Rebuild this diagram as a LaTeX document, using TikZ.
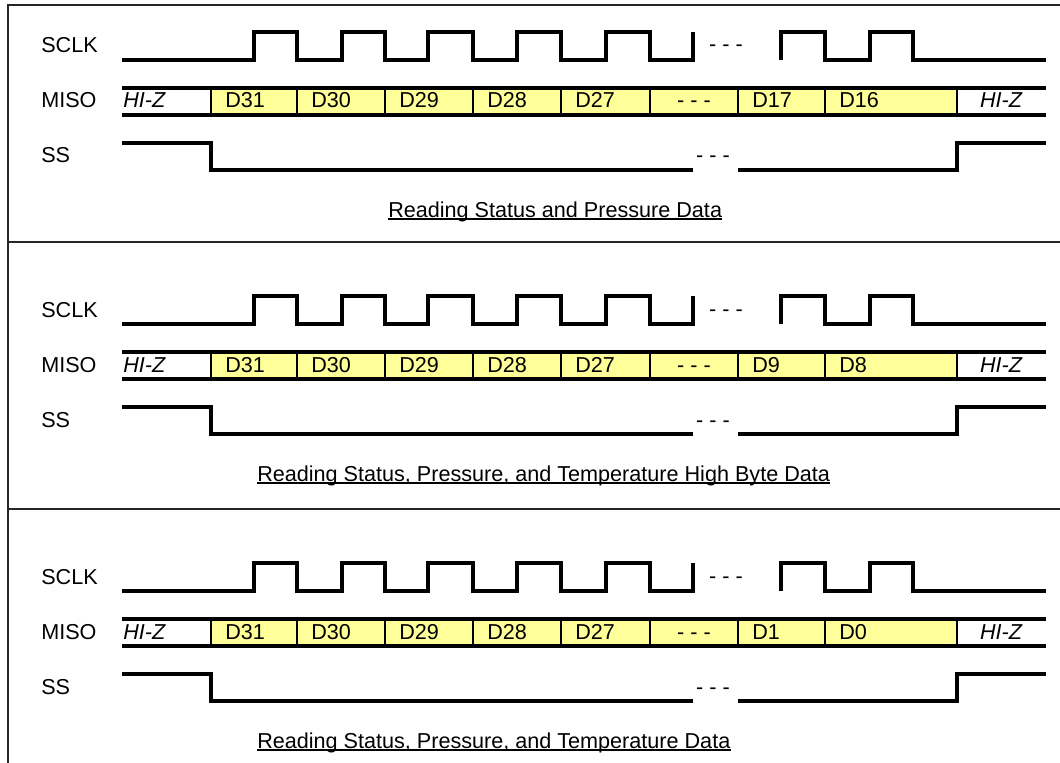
\documentclass[tikz,border=0pt]{standalone}
\usepackage{fontspec}
\setmainfont{Liberation Sans}
\definecolor{bityellow}{RGB}{255,255,153}

\begin{document}
\begin{tikzpicture}[x=0.75pt, y=-0.75pt,
    txt/.style={font=\fontsize{16.2}{19}\selectfont, inner sep=0pt},
    hiz/.style={font=\fontsize{16.2}{19}\selectfont\itshape, inner sep=0pt},
    wave/.style={line width=2.6pt, line join=miter},
    cell/.style={line width=2pt},
    frame/.style={line width=1pt, black!85}]
    \useasboundingbox (0,0) rectangle (1060,763);

    % panel frame
    \draw[frame] (8,763) -- (8,5) -- (1060,5);
    \draw[frame] (8,242) -- (1060,242);
    \draw[frame] (8,509) -- (1060,509);

    \foreach \dy/\bitA/\bitB/\cx/\capt in {0/D17/D16/388/{Reading Status and Pressure Data},
        264/D9/D8/257/{Reading Status, Pressure, and Temperature High Byte Data},
        531/D1/D0/257/{Reading Status, Pressure, and Temperature Data}} {
      % signal names
      \node[txt, anchor=base west] (sclk\dy) at (41,53+\dy) {SCLK};
      \node[txt, anchor=base west] (miso\dy) at (41,108+\dy) {MISO};
      \node[txt, anchor=base west] (ss\dy) at (41,163+\dy) {SS};

      % clock
      \draw[wave] (122,60+\dy) foreach \r/\f in {254/297,342/385,428/473,517/561,606/650} {
          -- (\r,60+\dy) -- (\r,32+\dy) -- (\f,32+\dy) -- (\f,60+\dy)} -- (693,60+\dy) -- (693,32+\dy);
      \node[txt, anchor=base] (clkgap\dy) at (726,52+\dy) {- - -};
      \draw[wave] (781,60+\dy) -- (781,32+\dy) -- (825,32+\dy) -- (825,60+\dy) -- (870,60+\dy)
          -- (870,32+\dy) -- (913,32+\dy) -- (913,60+\dy) -- (1046,60+\dy);

      % data out
      \fill[bityellow] (211,88+\dy) rectangle (957,115+\dy);
      \draw[wave] (122,88+\dy) -- (1046,88+\dy);
      \draw[wave] (122,115+\dy) -- (1046,115+\dy);
      \foreach \x in {211,297,385,473,561,650,738,825,957}
          \draw[cell] (\x,88+\dy) -- (\x,115+\dy);
      \node[hiz, anchor=base west] (hizl\dy) at (123,108+\dy) {HI-Z};
      \foreach \x/\t in {211/D31,297/D30,385/D29,473/D28,561/D27,738/\bitA,825/\bitB}
          \node[txt, anchor=base west] (bit\dy-\x) at (\x+14,108+\dy) {\t};
      \node[txt, anchor=base] (bitgap\dy) at (694,108+\dy) {- - -};
      \node[hiz, anchor=base] (hizr\dy) at (1001,108+\dy) {HI-Z};

      % select
      \draw[wave] (122,143+\dy) -- (211,143+\dy) -- (211,170+\dy) -- (693,170+\dy);
      \node[txt, anchor=base] (ssgap\dy) at (713,163+\dy) {- - -};
      \draw[wave] (738,170+\dy) -- (957,170+\dy) -- (957,143+\dy) -- (1046,143+\dy);

      % caption
      \node[txt, anchor=base west] (cap\dy) at (\cx,217+\dy) {\capt};
      \draw[line width=1pt] ([yshift=-1.6pt]cap\dy.base west) -- ([yshift=-1.6pt]cap\dy.base east);
    }
\end{tikzpicture}
\end{document}
